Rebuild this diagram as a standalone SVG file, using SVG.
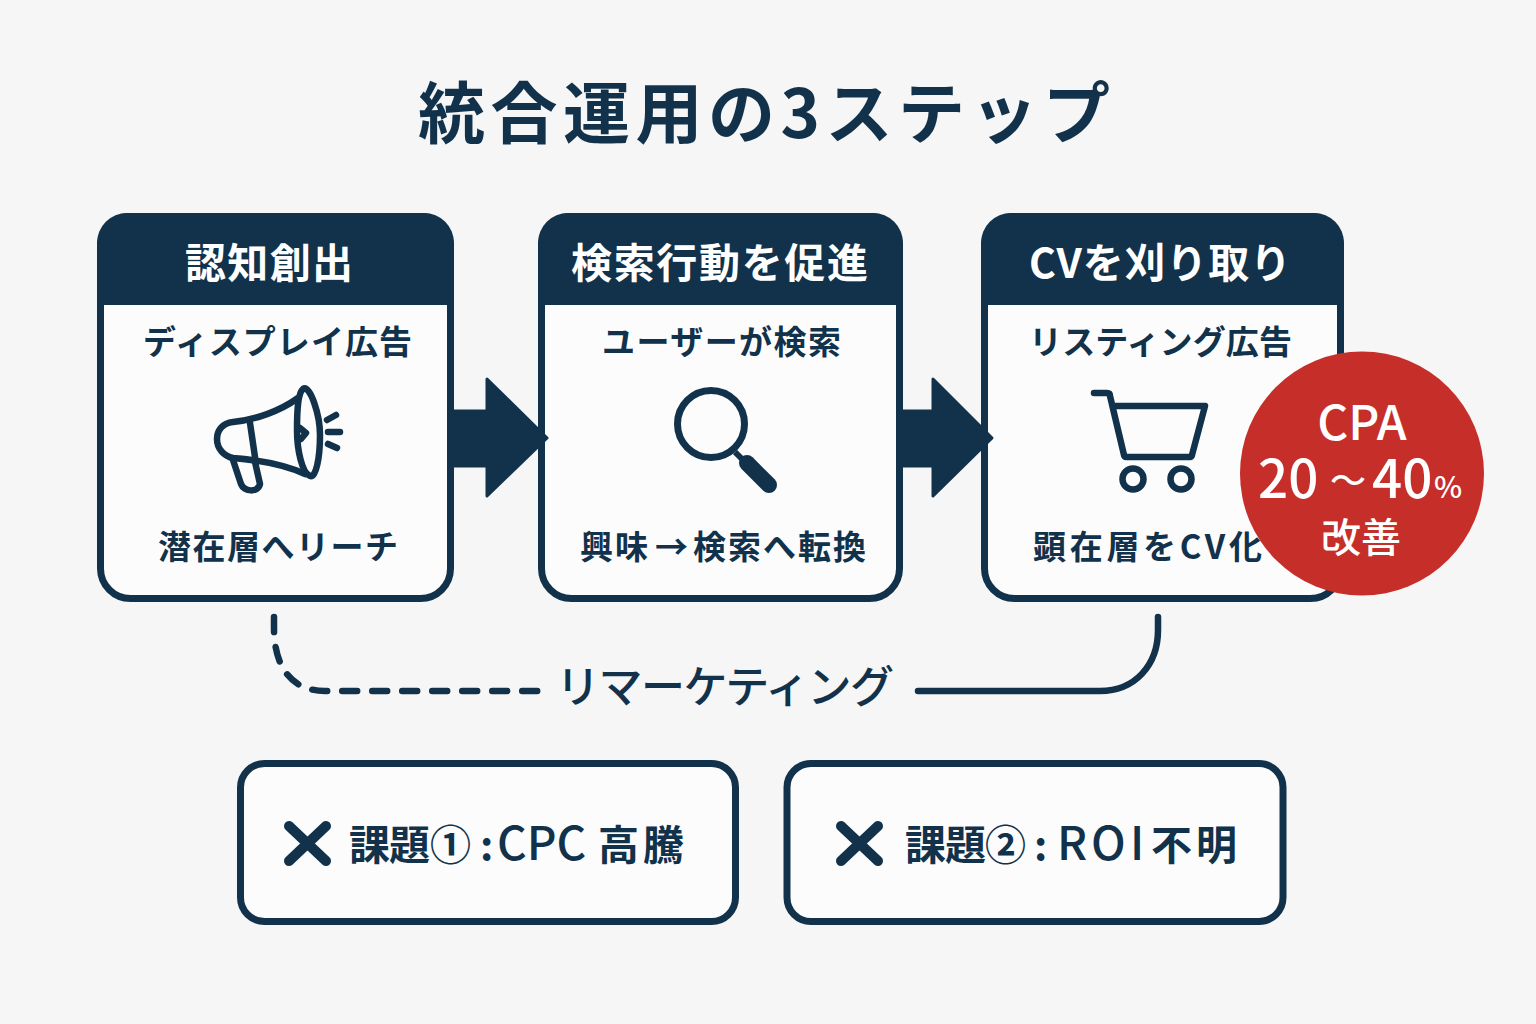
<svg xmlns="http://www.w3.org/2000/svg" width="1536" height="1024" viewBox="0 0 1536 1024">
<style>
text{font-family:"Noto Sans CJK JP","Noto Sans",sans-serif;fill:#12324b}
.card{fill:#fcfcfc;stroke:#12324b;stroke-width:7}
.head{fill:#12324b}
.h{font-size:41px;font-weight:700;fill:#fff}
.t{font-size:33px;font-weight:700}
.ic{fill:none;stroke:#12324b;stroke-width:6.500;stroke-linecap:round;stroke-linejoin:round}
.line{fill:none;stroke:#12324b;stroke-width:6.500;stroke-linecap:round}
.arrow{fill:#12324b;stroke:#12324b;stroke-width:3;stroke-linejoin:round}
.x{fill:none;stroke:#12324b;stroke-width:10;stroke-linecap:round}
.i{font-size:41px;font-weight:700}
.l{font-size:46px;font-weight:500}
.w{fill:#fff;font-weight:500}
</style>
<rect width="1536" height="1024" fill="#f6f6f6"/>
<text x="418" y="138" font-size="67" font-weight="700" textLength="692">統合運用の3ステップ</text>
<g id="node-1">
<rect class="card" x="100.500" y="216.500" width="350" height="382" rx="30"/>
<path class="head" d="M97 305V243a30 30 0 0 1 30-30H424a30 30 0 0 1 30 30V305Z"/>
<text class="h" x="185" y="278" textLength="168">認知創出</text>
<text class="t" x="143" y="354" textLength="269">ディスプレイ広告</text>
<g class="ic">
<path d="M298 398C280 411 255 420 233 422C222 423 217 431 217 439C217 449 224 456 233 458C258 460 285 465 305 474"/>
<path d="M303 389C310 384 320 415 320 435C320 458 316 478 310 476C302 473 297 450 297 430C297 410 298 393 303 389Z"/>
<path d="M250 423L255 457"/>
<path d="M233 460L241 484C244 492 258 493 260 484L255 462"/>
<path d="M327 420L336 415M328 432H340M328 444L337 448"/>
<path d="M300 428L306 433L301 439"/>
</g>
<text class="t" x="158" y="559" textLength="240">潜在層へリーチ</text>
</g>
<g id="node-2">
<rect class="card" x="541.500" y="216.500" width="358" height="382" rx="30"/>
<path class="head" d="M538 305V243a30 30 0 0 1 30-30H873a30 30 0 0 1 30 30V305Z"/>
<text class="h" x="571" y="278" textLength="297">検索行動を促進</text>
<text class="t" x="602" y="354" textLength="239">ユーザーが検索</text>
<circle cx="711" cy="424" r="33.500" fill="none" stroke="#12324b" stroke-width="7"/>
<path d="M735 452L746 463" fill="none" stroke="#12324b" stroke-width="6"/>
<path d="M747 463L769 485" fill="none" stroke="#12324b" stroke-width="16" stroke-linecap="round"/>
<text class="t" x="580 615 650 655 688 693 728 763 798 833" y="559">興味 → 検索へ転換</text>
</g>
<g id="node-3">
<rect class="card" x="984.500" y="216.500" width="356" height="382" rx="30"/>
<path class="head" d="M981 305V243a30 30 0 0 1 30-30H1314a30 30 0 0 1 30 30V305Z"/>
<text class="h" x="1029" y="278" textLength="262">CVを刈り取り</text>
<text class="t" x="1029" y="354" textLength="263">リスティング広告</text>
<g class="ic">
<path d="M1094 393H1107C1109 393 1110 394 1110 396L1124 455C1124 456 1125 457 1126 457H1190C1191 457 1192 456 1192 455L1205 406H1113"/>
<circle cx="1133" cy="479" r="10.500"/>
<circle cx="1181" cy="479" r="10.500"/>
</g>
<text class="t" x="1033" y="559" textLength="229">顕在層をCV化</text>
</g>
<g id="connectors">
<path class="arrow" d="M454 411H487V379L547 438L487 496V466H454Z"/>
<path class="arrow" d="M898 411H933V379L992 438L933 496V466H898Z"/>
<path class="line" d="M274 617V628C274 665 290 691 325 691H545" stroke-dasharray="15 15"/>
<path class="line" d="M918 691H1100C1135 691 1158 665 1158 630V617"/>
</g>
<text x="556" y="703" font-size="44" font-weight="500" textLength="338">リマーケティング</text>
<g id="badge">
<circle cx="1362" cy="473.500" r="122" fill="#c62e2a"/>
<text class="w" x="1362" y="440" font-size="48" text-anchor="middle">CPA</text>
<text class="w" y="498" font-size="53"><tspan x="1258">20</tspan><tspan x="1330" font-size="36" dy="-4">～</tspan><tspan x="1372" dy="4">40</tspan><tspan x="1434" font-size="30">%</tspan></text>
<text class="w" x="1361" y="552" font-size="40" text-anchor="middle">改善</text>
</g>
<g id="issue-1">
<rect class="card" x="240.500" y="763.500" width="495" height="158" rx="24"/>
<path class="x" d="M289 826L326 861M326 826L289 861"/>
<text class="i" y="860"><tspan x="349 389 430 480">課題①:</tspan><tspan class="l" x="497">CPC</tspan><tspan x="598 643">高騰</tspan></text>
</g>
<g id="issue-2">
<rect class="card" x="787" y="763.500" width="496" height="158" rx="24"/>
<path class="x" d="M841 826L878 861M878 826L841 861"/>
<text class="i" y="860"><tspan x="905 945 985 1034">課題②:</tspan><tspan class="l" x="1057 1091 1130">ROI</tspan><tspan x="1151 1196">不明</tspan></text>
</g>
</svg>
